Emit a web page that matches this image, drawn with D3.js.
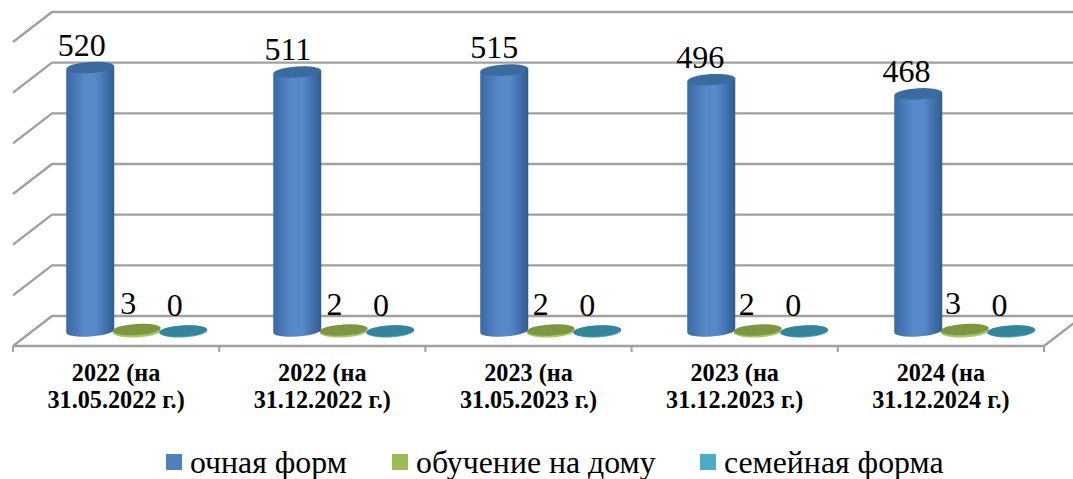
<!DOCTYPE html>
<html>
<head>
<meta charset="utf-8">
<script src="https://cdn.jsdelivr.net/npm/d3@7"></script>
<style>
    html, body { margin: 0; padding: 0; background: #fff; }
    text { font-family: "Liberation Serif", serif; fill: #000; }
</style>
</head>
<body>
<div id="chart"></div>
<script>
const categories = ["2022 (на|31.05.2022 г.)", "2022 (на|31.12.2022 г.)", "2023 (на|31.05.2023 г.)", "2023 (на|31.12.2023 г.)", "2024 (на|31.12.2024 г.)"];
const seriesNames = ["очная форм", "обучение на дому", "семейная форма"];
const ochnaya = [520, 511, 515, 496, 468];
const naDomu = [3, 2, 2, 2, 3];
const semeinaya = [0, 0, 0, 0, 0];
const yTicks = [0, 100, 200, 300, 400, 500, 600];

const width = 1073;
const height = 479;
const depthX = 39;
const depthY = 30;

const svg = d3.select("#chart")
    .append("svg")
    .attr("width", width)
    .attr("height", height)
    .style("display", "block");

const defs = svg.append("defs");
function cylGradient(id, edge, mid, dark) {
    const g = defs.append("linearGradient").attr("id", id);
    g.append("stop").attr("offset", "0%").attr("stop-color", edge);
    g.append("stop").attr("offset", "40%").attr("stop-color", mid);
    g.append("stop").attr("offset", "60%").attr("stop-color", mid);
    g.append("stop").attr("offset", "100%").attr("stop-color", dark);
}
cylGradient("blueCyl", "#3a6aa3", "#5889cb", "#2f5d92");

const xScale = d3.scaleBand().domain(categories).range([13, 1044]);
// bars sit in the middle of the box so their step is slightly wider than the front axis
const barScale = d3.scaleBand().domain(categories).range([34, 1069]);
const seriesScale = d3.scaleBand().domain(d3.range(3)).range([33, 172.5]);
// front wall of the box, the back wall is shifted by depth
const yScale = d3.scaleLinear().domain([0, 600]).range([346, 42]);

// grid
const lineGen = d3.line();
const gridColor = "#a0a0a0";
const gridG = svg.append("g").attr("fill", "none").attr("stroke", gridColor).attr("stroke-width", 2.4);
yTicks.forEach(t => {
    const y = yScale(t);
    gridG.append("path").attr("d", lineGen([[13, y], [13 + depthX, y - depthY], [width, y - depthY]]));
});
gridG.append("path").attr("d", lineGen([[13, 346], [1044, 346], [1044 + depthX, 346 - depthY]]));

// category axis
const xAxis = d3.axisBottom(xScale).tickSize(0).tickPadding(0).tickFormat("");
const axisG = svg.append("g").attr("transform", "translate(0,346)").call(xAxis);
axisG.select(".domain").remove();
const tickPositions = categories.map(c => xScale(c)).concat([1044]);
axisG.selectAll("line.sep").data(tickPositions).enter().append("line")
    .attr("class", "sep")
    .attr("x1", d => d).attr("x2", d => d)
    .attr("y1", 0).attr("y2", 6)
    .attr("stroke", gridColor).attr("stroke-width", 2);

categories.forEach(c => {
    const t = svg.append("text")
        .attr("x", xScale(c) + xScale.bandwidth() / 2)
        .attr("text-anchor", "middle")
        .style("font-size", "24.2px")
        .style("font-weight", "bold");
    c.split("|").forEach((line, i) => {
        t.append("tspan").attr("x", xScale(c) + xScale.bandwidth() / 2).attr("y", 381 + i * 27).text(line);
    });
});

// cylinders
const baseY = 331 - 346;
const rx = 24;
const ry = 5.6;
const tilt = 1.6;

function barX(c, s) {
    return barScale(c) + seriesScale(s) + seriesScale.bandwidth() / 2;
}
function barTop(v) {
    return yScale(v) + baseY;
}
function drawBar(cx, v, bodyFill, capFill) {
    const top = barTop(v);
    const bottom = barTop(0);
    if (v >= 10) {
        svg.append("path")
            .attr("d", `M${cx - rx},${top + tilt} L${cx - rx},${bottom + tilt} A${rx},${ry} -4 0 0 ${cx + rx},${bottom - tilt} L${cx + rx},${top - tilt} Z`)
            .attr("fill", bodyFill);
    } else {
        svg.append("ellipse")
            .attr("cx", cx).attr("cy", bottom + 0.4)
            .attr("rx", rx).attr("ry", ry + 0.4)
            .attr("transform", `rotate(-3 ${cx} ${bottom})`)
            .attr("fill", bodyFill);
    }
    svg.append("ellipse")
        .attr("cx", cx).attr("cy", top)
        .attr("rx", rx).attr("ry", ry)
        .attr("transform", `rotate(-3.5 ${cx} ${top})`)
        .attr("fill", capFill);
}

const seriesValues = [ochnaya, naDomu, semeinaya];
const bodyFills = ["url(#blueCyl)", "#a6c763", "#4bacc6"];
const capFills = ["#3b6a9f", "#7d9741", "#33859c"];

seriesValues.forEach((vals, s) => {
    vals.forEach((v, i) => {
        drawBar(barX(categories[i], s), v, bodyFills[s], capFills[s]);
    });
});

// value labels follow the front axis step
seriesValues.forEach((vals, s) => {
    vals.forEach((v, i) => {
        svg.append("text")
            .attr("x", xScale(categories[i]) + seriesScale(s) + seriesScale.bandwidth() / 2 + 12.5)
            .attr("y", barTop(v) - (s === 0 ? 12 : 15))
            .attr("text-anchor", "middle")
            .style("font-size", "32px")
            .text(v);
    });
});

// legend
const legendColors = ["#4f81bd", "#9bbb59", "#4bacc6"];
const legendX = [166, 392, 700];
seriesNames.forEach((name, i) => {
    svg.append("rect")
        .attr("x", legendX[i]).attr("y", 454)
        .attr("width", 16).attr("height", 16)
        .attr("fill", legendColors[i]);
    svg.append("text")
        .attr("x", legendX[i] + 24).attr("y", 473)
        .style("font-size", "31.8px")
        .text(name);
});
</script>
</body>
</html>
